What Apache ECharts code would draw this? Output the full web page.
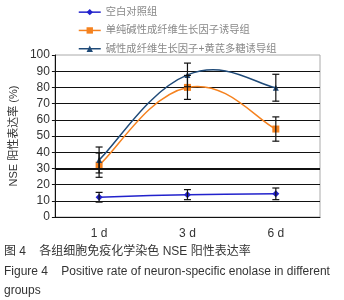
<!DOCTYPE html>
<html><head><meta charset="utf-8">
<script src="https://cdn.jsdelivr.net/npm/echarts@6/dist/echarts.min.js"></script>
<style>html,body{margin:0;padding:0;background:#fff}#c{width:344px;height:300px}</style>
</head><body><div id="c"></div>
<script>
const categories = ['1 d', '3 d', '6 d'];
const seriesNames = ['空白对照组', '单纯碱性成纤维生长因子诱导组', '碱性成纤维生长因子+黄芪多糖诱导组'];
const controlValues = [12.2, 13.8, 14.3];
const controlErr = [3.0, 3.1, 3.6];
const bfgfValues = [32.0, 80.0, 54.3];
const bfgfErr = [7.5, 7.4, 7.5];
const comboValues = [35.2, 87.7, 79.8];
const comboErr = [8.0, 7.3, 8.3];
const yTicks = [0, 10, 20, 30, 40, 50, 60, 70, 80, 90, 100];

const colors = ['#2222cc', '#f5821f', '#1f4a78'];
const cjk = '"Liberation Sans", "Noto Sans CJK SC", sans-serif';

function errSeries(vals, errs) {
  return {
    type: 'custom', silent: true, z: 5,
    data: vals.map((v, i) => [i, v - errs[i], v + errs[i]]),
    renderItem: function (params, api) {
      const x = api.value(0);
      const lo = api.coord([x, api.value(1)]);
      const hi = api.coord([x, api.value(2)]);
      const w = 3.5;
      const st = { stroke: '#111', lineWidth: 1.2 };
      return {
        type: 'group', children: [
          { type: 'line', shape: { x1: lo[0], y1: lo[1], x2: hi[0], y2: hi[1] }, style: st },
          { type: 'line', shape: { x1: lo[0] - w, y1: lo[1], x2: lo[0] + w, y2: lo[1] }, style: st },
          { type: 'line', shape: { x1: hi[0] - w, y1: hi[1], x2: hi[0] + w, y2: hi[1] }, style: st }
        ]
      };
    }
  };
}

// Smooth (cardinal spline) curve through the data, in pixel space
function curveSeries(vals, color, k) {
  return {
    type: 'custom', silent: true, z: 2,
    data: vals.map((v, i) => [i, v]),
    renderItem: function (params, api) {
      if (params.dataIndex !== 0) return null;
      const p = vals.map((v, i) => api.coord([i, v]));
      const n = p.length;
      const children = [];
      for (let i = 0; i < n - 1; i++) {
        const p0 = p[Math.max(i - 1, 0)], p1 = p[i], p2 = p[i + 1], p3 = p[Math.min(i + 2, n - 1)];
        children.push({
          type: 'bezierCurve',
          shape: {
            x1: p1[0], y1: p1[1], x2: p2[0], y2: p2[1],
            cpx1: p1[0] + k * (p2[0] - p0[0]), cpy1: p1[1] + k * (p2[1] - p0[1]),
            cpx2: p2[0] - k * (p3[0] - p1[0]), cpy2: p2[1] - k * (p3[1] - p1[1])
          },
          style: { stroke: color, lineWidth: 1.5, fill: null }
        });
      }
      return { type: 'group', children: children };
    }
  };
}

const chart = echarts.init(document.getElementById('c'), null, { renderer: 'canvas' });
chart.setOption({
  animation: false,
  color: colors,
  legend: {
    data: seriesNames,
    orient: 'vertical',
    left: 73, top: 2,
    itemWidth: 22, itemHeight: 8, itemGap: 8,
    lineStyle: { opacity: 1, width: 1.5 },
    textStyle: { fontFamily: cjk, fontSize: 10.3, color: '#888' }
  },
  grid: { left: 49, right: 24, top: 55, bottom: 83, show: true, borderColor: '#aaa', borderWidth: 1 },
  xAxis: {
    type: 'category', data: categories, boundaryGap: true,
    axisLine: { lineStyle: { color: '#111', width: 1 } },
    axisTick: { inside: true, length: 4, lineStyle: { color: '#111' } },
    axisLabel: { fontFamily: cjk, fontSize: 12, color: '#333', margin: 11 }
  },
  yAxis: {
    type: 'value', min: yTicks[0], max: yTicks[yTicks.length - 1], interval: 10,
    name: 'NSE 阳性表达率 (%)', nameLocation: 'middle', nameGap: 33, nameRotate: 90,
    nameTextStyle: { fontFamily: cjk, fontSize: 11, color: '#333' },
    axisLine: { show: true, lineStyle: { color: '#111', width: 1 } },
    axisTick: { show: true, length: 3, lineStyle: { color: '#111' } },
    axisLabel: { fontFamily: cjk, fontSize: 12, color: '#333', margin: 5 },
    splitLine: { show: true, showMaxLine: false, lineStyle: { color: '#111', width: 1.2 } }
  },
  series: [
    { name: seriesNames[0], type: 'line', data: controlValues, symbol: 'diamond', symbolSize: 7,
      lineStyle: { width: 1.5, color: colors[0], opacity: 0 }, itemStyle: { color: colors[0] }, z: 3,
      markLine: { silent: true, symbol: 'none', label: { show: false }, lineStyle: { color: '#111', width: 2.2, type: 'solid', opacity: 1 }, data: [{ yAxis: 30 }] } },
    { name: seriesNames[1], type: 'line', data: bfgfValues, symbol: 'rect', symbolSize: 7,
      lineStyle: { width: 1.5, color: colors[1], opacity: 0 }, itemStyle: { color: colors[1] }, z: 3 },
    { name: seriesNames[2], type: 'line', data: comboValues, symbol: 'triangle', symbolSize: 6,
      lineStyle: { width: 1.5, color: colors[2], opacity: 0 }, itemStyle: { color: colors[2] }, z: 3 },
    curveSeries(controlValues, colors[0], 0.15),
    curveSeries(bfgfValues, colors[1], 0.22),
    curveSeries(comboValues, colors[2], 0.22),
    errSeries(controlValues, controlErr),
    errSeries(bfgfValues, bfgfErr),
    errSeries(comboValues, comboErr)
  ],
  graphic: [
    { type: 'text', left: 4, top: 246, style: { text: '图 4    各组细胞免疫化学染色 NSE 阳性表达率', fontFamily: cjk, fontSize: 12, fill: '#333' } },
    { type: 'text', left: 4, top: 266, style: { text: 'Figure 4    Positive rate of neuron-specific enolase in different', fontFamily: cjk, fontSize: 12, fill: '#333' } },
    { type: 'text', left: 4, top: 285, style: { text: 'groups', fontFamily: cjk, fontSize: 12, fill: '#333' } }
  ]
});
</script></body></html>
